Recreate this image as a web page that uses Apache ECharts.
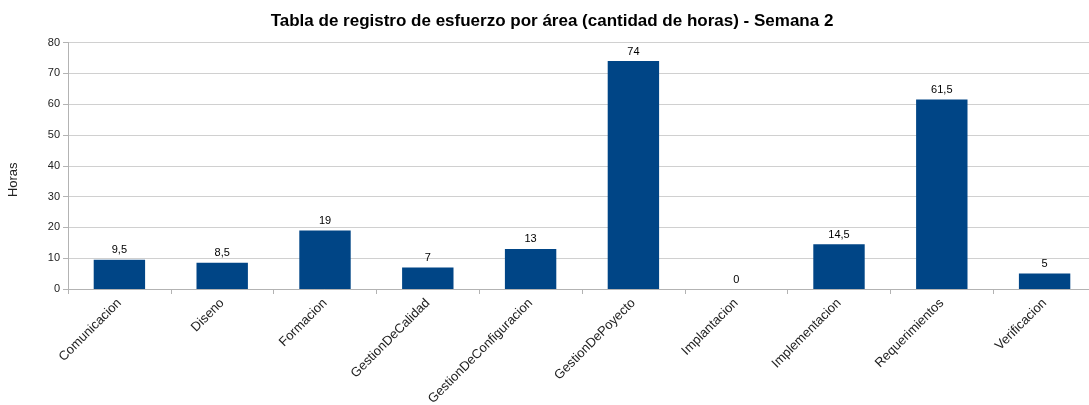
<!DOCTYPE html>
<html>
<head>
<meta charset="utf-8">
<script src="https://cdn.jsdelivr.net/npm/echarts@6/dist/echarts.min.js"></script>
<style>
  html, body { margin: 0; padding: 0; background: #fff; overflow: hidden; }
  #chart { width: 1104px; height: 405px; }
</style>
</head>
<body>
<div id="chart"></div>
<script>
// 数据
const categories = ['Comunicacion', 'Diseno', 'Formacion', 'GestionDeCalidad', 'GestionDeConfiguracion',
  'GestionDePoyecto', 'Implantacion', 'Implementacion', 'Requerimientos', 'Verificacion']
const horas = [9.5, 8.5, 19, 7, 13, 74, 0, 14.5, 61.5, 5]
const yTicks = { min: 0, max: 80, interval: 10 }

const chart = echarts.init(document.getElementById('chart'))

const fontFamily = '"Liberation Sans", Arial, sans-serif'

chart.setOption({
  animation: false,
  title: {
    text: 'Tabla de registro de esfuerzo por área (cantidad de horas) - Semana 2',
    left: 'center',
    top: 8,
    textStyle: { fontFamily, fontSize: 17, fontWeight: 'bold', color: '#000' }
  },
  grid: {
    left: 68,
    top: 42.5,
    width: 1028,
    height: 246.5,
    containLabel: false,
    outerBoundsMode: 'none'
  },
  xAxis: {
    type: 'category',
    data: categories,
    axisLine: { lineStyle: { color: '#b3b3b3' } },
    axisTick: { show: true, length: 5, lineStyle: { color: '#b3b3b3' } },
    axisLabel: {
      rotate: 45,
      interval: 0,
      margin: 12,
      fontFamily,
      fontSize: 13,
      color: '#222'
    }
  },
  yAxis: {
    type: 'value',
    min: yTicks.min,
    max: yTicks.max,
    interval: yTicks.interval,
    name: 'Horas',
    nameLocation: 'middle',
    nameGap: 48,
    nameRotate: 90,
    nameTextStyle: { fontFamily, fontSize: 13, color: '#222', padding: [0, 28, 0, 0] },
    axisLine: { show: true, lineStyle: { color: '#b3b3b3' } },
    axisTick: { show: true, length: 5, lineStyle: { color: '#b3b3b3' } },
    axisLabel: { fontFamily, fontSize: 11, color: '#222', margin: 8 },
    splitLine: { lineStyle: { color: '#d0d0d0' } }
  },
  series: [
    {
      type: 'bar',
      data: horas,
      barWidth: '50%',
      itemStyle: { color: '#004586' },
      label: {
        show: true,
        position: 'top',
        distance: 4,
        fontFamily,
        fontSize: 11,
        color: '#000',
        formatter: (p) => String(p.value).replace('.', ',')
      }
    }
  ]
})
</script>
</body>
</html>
